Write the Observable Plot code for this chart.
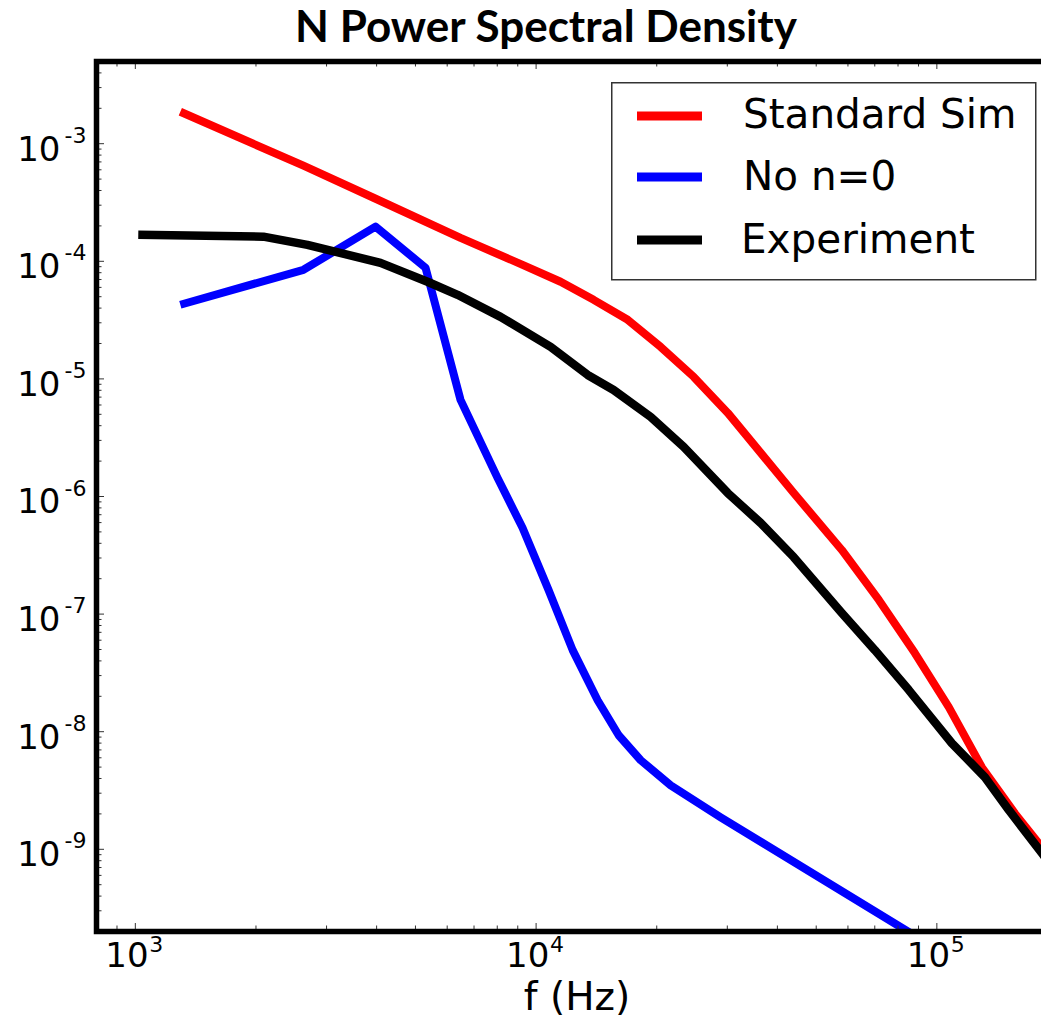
<!DOCTYPE html>
<html>
<head>
<meta charset="utf-8">
<script src="https://cdn.jsdelivr.net/npm/d3@7"></script>
<script src="https://cdn.jsdelivr.net/npm/@observablehq/plot@0.6"></script>
<style>
  html, body { margin: 0; padding: 0; background: #fff; overflow: hidden; }
  #wrap { position: relative; width: 1041px; height: 1031px; overflow: hidden; background: #fff; }
  #chart { position: absolute; left: 0; top: 0; width: 1080px; height: 1031px; }
  #chart svg { max-width: none !important; width: 1080px !important; height: 1031px !important; }
  #title { position: absolute; left: 51px; width: 990px; top: 2px; text-align: center; white-space: nowrap;
           font-family: Lato, "Open Sans", sans-serif; font-weight: bold; font-size: 44px; line-height: 1.05; color: #000; }
  #legend { position: absolute; left: 611px; top: 82px; }
</style>
</head>
<body>
<div id="wrap">
  <div id="chart"></div>
  <div id="title">N Power Spectral Density</div>
  <div id="legend"></div>
</div>
<script>
// ---- data ----
const stdFreq = [1295, 2627, 3929, 6478, 9255, 11510, 13920, 16930, 20460, 24740, 30080, 36350, 43950, 57920, 71650, 88120, 107100, 129500, 156600, 182900, 200400];
const stdPSD  = [1.87e-3, 6.50e-4, 3.47e-4, 1.58e-4, 9.33e-5, 6.70e-5, 4.70e-5, 3.18e-5, 1.87e-5, 1.04e-5, 5.14e-6, 2.35e-6, 1.07e-6, 3.51e-7, 1.32e-7, 4.66e-8, 1.62e-8, 4.99e-9, 2.02e-9, 1.04e-9, 6.9e-10];

const non0Freq = [1295, 2627, 3975, 5298, 6478, 8013, 9255, 10745, 12338, 14240, 16070, 18240, 21670, 28880, 84650, 100000];
const non0PSD  = [4.27e-5, 8.47e-5, 1.97e-4, 8.81e-5, 6.63e-6, 1.44e-6, 5.39e-7, 1.60e-7, 4.94e-8, 1.85e-8, 9.33e-9, 5.72e-9, 3.50e-9, 1.87e-9, 2.00e-10, 1.41e-10];

const expFreq = [1017, 2087, 2688, 4090, 5358, 6368, 8152, 10870, 13450, 15610, 19310, 23350, 30080, 36350, 43950, 57920, 70010, 85130, 109000, 131800, 151300, 182900, 200400];
const expPSD  = [1.68e-4, 1.62e-4, 1.38e-4, 9.70e-5, 6.70e-5, 5.19e-5, 3.37e-5, 1.87e-5, 1.08e-5, 8.05e-6, 4.75e-6, 2.64e-6, 1.07e-6, 5.95e-7, 3.05e-7, 1.02e-7, 4.94e-8, 2.26e-8, 7.98e-9, 4.10e-9, 2.15e-9, 9.25e-10, 6.1e-10];

const seriesNames  = ["Standard Sim", "No n=0", "Experiment"];
const seriesColors = ["#ff0000", "#0000ff", "#000000"];

const xTickExps = [3, 4, 5];
const yTickExps = [-3, -4, -5, -6, -7, -8, -9];
const xDomain = [800, 2.0e5];
const yDomain = [2e-10, 5e-3];
const xLabel = "f (Hz)";

// ---- layout ----
const W = 1080, H = 1031;
const mL = 96, mT = 61, mB = 100, mR = W - 1057;
const plotW = W - mL - mR, plotH = H - mT - mB;
const spine = 5.5;
const majLen = 8, minLen = 5.5;

function minorTicks(lo, hi) {
  const out = [];
  for (let k = Math.floor(Math.log10(lo)); k <= Math.ceil(Math.log10(hi)); k++) {
    for (let m = 2; m <= 9; m++) {
      const v = m * Math.pow(10, k);
      if (v >= lo && v <= hi) out.push(v);
    }
  }
  return out;
}
const xMajor = xTickExps.map(e => Math.pow(10, e));
const yMajor = yTickExps.map(e => Math.pow(10, e));
const xMinor = minorTicks(xDomain[0], xDomain[1]);
const yMinor = minorTicks(yDomain[0], yDomain[1]);

const lineOpts = {strokeWidth: 8, strokeLinejoin: "round", strokeLinecap: "butt", clip: true};
const tickStyle = {stroke: "#333", strokeWidth: 1};

const chart = Plot.plot({
  width: W, height: H,
  marginLeft: mL, marginRight: mR, marginTop: mT, marginBottom: mB,
  x: {type: "log", domain: xDomain, axis: null},
  y: {type: "log", domain: yDomain, axis: null},
  style: {background: "white", fontFamily: "DejaVu Sans", color: "black", overflow: "visible", maxWidth: "none"},
  marks: [
    Plot.line(stdPSD, {x: stdFreq, y: stdPSD, stroke: seriesColors[0], ...lineOpts}),
    Plot.line(non0PSD, {x: non0Freq, y: non0PSD, stroke: seriesColors[1], ...lineOpts}),
    Plot.line(expPSD, {x: expFreq, y: expPSD, stroke: seriesColors[2], ...lineOpts, strokeWidth: 8.5}),
    // inward ticks: bottom & top
    Plot.tickX(xMajor, {x: d => d, insetTop: plotH - majLen, ...tickStyle}),
    Plot.tickX(xMinor, {x: d => d, insetTop: plotH - minLen, ...tickStyle}),
    Plot.tickX(xMajor, {x: d => d, insetBottom: plotH - majLen, ...tickStyle}),
    Plot.tickX(xMinor, {x: d => d, insetBottom: plotH - minLen, ...tickStyle}),
    // inward ticks: left & right
    Plot.tickY(yMajor, {y: d => d, insetRight: plotW - majLen, ...tickStyle}),
    Plot.tickY(yMinor, {y: d => d, insetRight: plotW - minLen, ...tickStyle}),
    Plot.tickY(yMajor, {y: d => d, insetLeft: plotW - majLen, ...tickStyle}),
    Plot.tickY(yMinor, {y: d => d, insetLeft: plotW - minLen, ...tickStyle}),
    Plot.frame({stroke: "black", strokeWidth: spine}),
    // y tick labels: 10 with superscript exponent
    Plot.text(yTickExps, {y: e => Math.pow(10, e), frameAnchor: "left", text: () => "10",
      textAnchor: "end", dx: -36, dy: 6, fontSize: 34, fontFamily: "DejaVu Sans", fill: "black"}),
    Plot.text(yTickExps, {y: e => Math.pow(10, e), frameAnchor: "left", text: e => String(e),
      textAnchor: "end", dx: -10, dy: -8, fontSize: 22, fontFamily: "DejaVu Sans", fill: "black"}),
    // x tick labels
    Plot.text(xTickExps, {x: e => Math.pow(10, e), frameAnchor: "bottom", text: () => "10",
      textAnchor: "start", dx: -30, dy: 35, fontSize: 34, fontFamily: "DejaVu Sans", fill: "black"}),
    Plot.text(xTickExps, {x: e => Math.pow(10, e), frameAnchor: "bottom", text: e => String(e),
      textAnchor: "start", dx: 14, dy: 20, fontSize: 22, fontFamily: "DejaVu Sans", fill: "black"}),
    // x axis label
    Plot.text([xLabel], {frameAnchor: "bottom", text: d => d, dy: 78, fontSize: 39,
      fontFamily: "DejaVu Sans", fill: "black"})
  ]
});
chart.style.maxWidth = "none";
document.getElementById("chart").appendChild(chart);

// ---- legend ----
const lg = d3.select("#legend").append("svg")
  .attr("width", 426).attr("height", 199)
  .style("display", "block");
lg.append("rect").attr("x", 0.75).attr("y", 0.75).attr("width", 424).attr("height", 197)
  .attr("fill", "white").attr("stroke", "#333").attr("stroke-width", 1.5);
const rowY = [34, 95, 158];
const textBase = [46, 108, 171];
const textX = [132, 132, 130];
seriesNames.forEach((name, i) => {
  lg.append("line").attr("x1", 26).attr("x2", 91).attr("y1", rowY[i]).attr("y2", rowY[i])
    .attr("stroke", seriesColors[i]).attr("stroke-width", 9);
  lg.append("text").attr("x", textX[i]).attr("y", textBase[i])
    .attr("font-family", "DejaVu Sans").attr("font-size", 40.5).attr("fill", "black")
    .text(name);
});
</script>
</body>
</html>
